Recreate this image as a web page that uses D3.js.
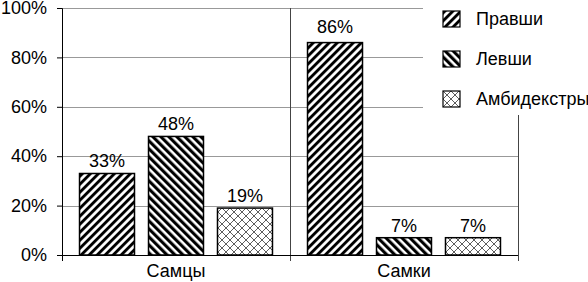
<!DOCTYPE html>
<html>
<head>
<meta charset="utf-8">
<script src="https://cdn.jsdelivr.net/npm/d3@7"></script>
<style>
  body { margin: 0; background: #fff; }
  text { font-family: "Liberation Sans", Arial, sans-serif; fill: #000; }
</style>
</head>
<body>
<div id="chart"></div>
<script>
// Data
var categories = ["Самцы", "Самки"];
var seriesNames = ["Правши", "Левши", "Амбидекстры"];
var rightHanded = [33, 86];
var leftHanded = [48, 7];
var ambidextrous = [19, 7];
var yTicks = [0, 20, 40, 60, 80, 100];

var seriesValues = [rightHanded, leftHanded, ambidextrous];
var patternIds = ["p-right", "p-left", "p-cross"];

var svgWidth = 588;
var svgHeight = 282;
var fontSize = 18;

var chartMargin = { top: 8, right: 70, bottom: 27, left: 62 };
var chartWidth = svgWidth - chartMargin.left - chartMargin.right;
var chartHeight = svgHeight - chartMargin.top - chartMargin.bottom;

var svg = d3.select("#chart")
    .append("svg")
    .attr("width", svgWidth)
    .attr("height", svgHeight);

// hatch patterns
var defs = svg.append("defs");
defs.append("pattern")
    .attr("id", "p-right")
    .attr("patternUnits", "userSpaceOnUse")
    .attr("width", 5.66).attr("height", 10)
    .attr("patternTransform", "rotate(45)")
    .append("rect")
    .attr("width", 2.9).attr("height", 10).attr("fill", "#000");
defs.append("pattern")
    .attr("id", "p-left")
    .attr("patternUnits", "userSpaceOnUse")
    .attr("width", 5.66).attr("height", 10)
    .attr("patternTransform", "rotate(-45)")
    .append("rect")
    .attr("width", 3.1).attr("height", 10).attr("fill", "#000");
var cross = defs.append("pattern")
    .attr("id", "p-cross")
    .attr("patternUnits", "userSpaceOnUse")
    .attr("width", 8).attr("height", 8);
cross.append("rect").attr("width", 8).attr("height", 8).attr("fill", "#fff");
cross.append("path")
    .attr("d", "M0,0L8,8M8,0L0,8")
    .attr("stroke", "#333")
    .attr("stroke-width", 0.8);

var chartGroup = svg.append("g")
    .attr("transform", `translate(${chartMargin.left}, ${chartMargin.top})`);

// scales
var x0 = d3.scaleBand()
    .domain(categories)
    .range([0, chartWidth])
    .padding(0);

var x1 = d3.scaleBand()
    .domain(seriesNames)
    .range([0, x0.bandwidth()])
    .paddingInner(0.203)
    .paddingOuter(0.254);

var yScale = d3.scaleLinear()
    .domain([0, 100])
    .range([chartHeight, 0]);

// gridlines
chartGroup.append("g")
    .selectAll("line")
    .data(yTicks.filter(d => d > 0))
    .enter()
    .append("line")
    .attr("x1", 0)
    .attr("x2", chartWidth)
    .attr("y1", d => Math.round(yScale(d)) + 0.5)
    .attr("y2", d => Math.round(yScale(d)) + 0.5)
    .attr("stroke", "#999")
    .attr("stroke-width", 1);

// category separators
chartGroup.append("g")
    .selectAll("line")
    .data(categories)
    .enter()
    .append("line")
    .attr("x1", d => Math.round(x0(d) + x0.bandwidth()) + 0.5)
    .attr("x2", d => Math.round(x0(d) + x0.bandwidth()) + 0.5)
    .attr("y1", 0)
    .attr("y2", chartHeight + 6)
    .attr("stroke", "#444")
    .attr("stroke-width", 1);

// bars
var groups = chartGroup.selectAll(".grp")
    .data(categories)
    .enter()
    .append("g")
    .attr("class", "grp")
    .attr("transform", d => `translate(${x0(d)}, 0)`);

groups.each(function (cat, ci) {
    var g = d3.select(this);
    seriesNames.forEach(function (s, si) {
        var v = seriesValues[si][ci];
        g.append("rect")
            .attr("x", x1(s))
            .attr("y", yScale(v))
            .attr("width", x1.bandwidth())
            .attr("height", chartHeight - yScale(v))
            .attr("fill", "#fff");
        g.append("rect")
            .attr("x", x1(s))
            .attr("y", yScale(v))
            .attr("width", x1.bandwidth())
            .attr("height", chartHeight - yScale(v))
            .attr("fill", `url(#${patternIds[si]})`)
            .attr("stroke", "#000")
            .attr("stroke-width", 1.5);
        g.append("text")
            .attr("x", x1(s) + x1.bandwidth() / 2)
            .attr("y", yScale(v) - (v > 80 ? 10 : 6))
            .attr("text-anchor", "middle")
            .attr("font-size", fontSize)
            .text(v + "%");
    });
});

// left axis
var leftAxis = d3.axisLeft(yScale)
    .tickValues(yTicks)
    .tickFormat(d => d + "%")
    .tickSize(5)
    .tickPadding(10);
var ya = chartGroup.append("g").call(leftAxis);
ya.select(".domain").attr("stroke", "#000");
ya.selectAll("text").attr("font-size", fontSize).attr("font-family", "Liberation Sans, Arial, sans-serif");

// bottom axis line + ticks
chartGroup.append("line")
    .attr("x1", 0).attr("x2", chartWidth)
    .attr("y1", chartHeight + 0.5).attr("y2", chartHeight + 0.5)
    .attr("stroke", "#000");
chartGroup.append("line")
    .attr("x1", 0.5).attr("x2", 0.5)
    .attr("y1", chartHeight).attr("y2", chartHeight + 6)
    .attr("stroke", "#000");

// category labels
chartGroup.selectAll(".catLabel")
    .data(categories)
    .enter()
    .append("text")
    .attr("class", "catLabel")
    .attr("x", d => x0(d) + x0.bandwidth() / 2)
    .attr("y", chartHeight + 22)
    .attr("text-anchor", "middle")
    .attr("font-size", fontSize)
    .text(d => d);

// legend
var legend = svg.append("g").attr("transform", "translate(423, 0)");
legend.append("rect")
    .attr("width", 165).attr("height", 115)
    .attr("fill", "#fff");
var items = legend.selectAll(".item")
    .data(seriesNames)
    .enter()
    .append("g")
    .attr("class", "item")
    .attr("transform", (d, i) => `translate(20, ${11 + i * 40})`);
items.append("rect")
    .attr("width", 17).attr("height", 16)
    .attr("fill", "#fff");
items.append("rect")
    .attr("width", 17).attr("height", 16)
    .attr("fill", (d, i) => `url(#${patternIds[i]})`)
    .attr("stroke", "#000")
    .attr("stroke-width", 1.2);
items.append("text")
    .attr("x", 33)
    .attr("y", 8)
    .attr("dy", "0.35em")
    .attr("font-size", fontSize)
    .text(d => d);
</script>
</body>
</html>
